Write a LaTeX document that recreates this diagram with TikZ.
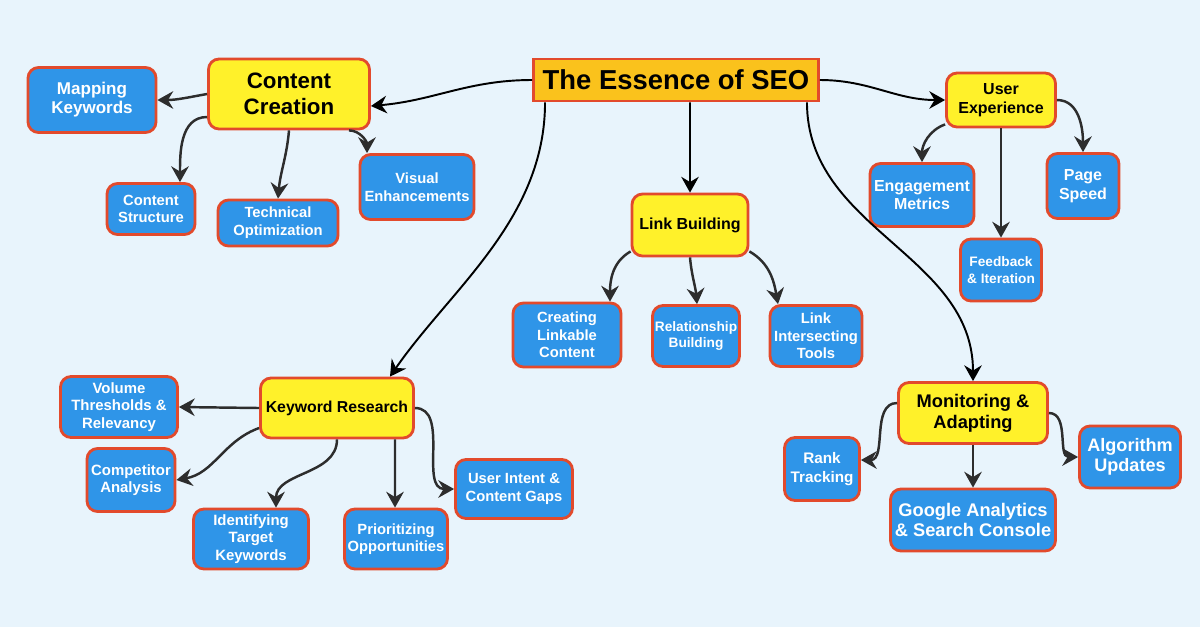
\documentclass[tikz,border=0pt]{standalone}
\usepackage{fontspec}
\setmainfont{Liberation Sans}
\usetikzlibrary{arrows.meta}
\definecolor{bgblue}{HTML}{E8F4FC}
\definecolor{leafblue}{HTML}{2F95E8}
\definecolor{edgered}{HTML}{E24A2C}
\definecolor{topicyellow}{HTML}{FFF12A}
\definecolor{rootorange}{HTML}{FAC21C}
\definecolor{arrowgray}{HTML}{2D2D2D}

\begin{document}
\begin{tikzpicture}[x=0.02cm, y=-0.02cm,
  >={Stealth[length=9pt,width=10pt,inset=3pt]},
  box/.style={draw=edgered, line width=1.6pt, align=center, inner sep=0pt},
  rootbox/.style={box, fill=rootorange, text=black},
  topic/.style={box, rounded corners=6pt, fill=topicyellow, text=black},
  leaf/.style={box, rounded corners=6pt, fill=leafblue, text=white},
  sz/.style 2 args={minimum width=#1*0.02cm, minimum height=#2*0.02cm},
  fs/.style 2 args={font=\bfseries\fontsize{#1}{#2}\selectfont},
  rootarrow/.style={->, line width=1.1pt, black},
  childarrow/.style={->, line width=1.4pt, arrowgray}]
\useasboundingbox (0,0) rectangle (1200,627);
\fill [bgblue] (0,0) rectangle (1200,627);

% centre
\node (SEO) at (676,80) [rootbox, sz={285}{42}, fs={15.6}{18}] {The Essence of SEO};

% topics
\node (CC) at (289,94) [topic, sz={161}{70}, fs={12.7}{14.6}] {Content\\Creation};
\node (LB) at (690,225) [topic, sz={116}{62}, fs={9.1}{10}] {Link Building};
\node (UX) at (1001,100) [topic, sz={109}{54}, fs={9.1}{10.8}] {User\\Experience};
\node (KR) at (337,408) [topic, sz={153}{60}, fs={9}{10}] {Keyword Research};
\node (MA) at (973,413) [topic, sz={149}{61}, fs={10.4}{12}] {Monitoring \&\\Adapting};

% content creation
\node (MK) at (92,100) [leaf, sz={128}{65}, fs={9.7}{10.9}] {Mapping\\Keywords};
\node (CS) at (151,209) [leaf, sz={88}{51}, fs={8.4}{9.8}] {Content\\Structure};
\node (TO) at (278,223) [leaf, sz={120}{46}, fs={8.4}{10.2}] {Technical\\Optimization};
\node (VE) at (417,187) [leaf, sz={114}{65}, fs={8.4}{10}] {Visual\\Enhancements};

% link building
\node (CLC) at (567,335) [leaf, sz={108}{64}, fs={8.4}{10}] {Creating\\Linkable\\Content};
\node (RB) at (696,336) [leaf, sz={87}{61}, fs={7.8}{9.2}] {Relationship\\Building};
\node (LIT) at (816,336) [leaf, sz={92}{61}, fs={8.4}{10}] {Link\\Intersecting\\Tools};

% user experience
\node (EM) at (922,195) [leaf, sz={104}{63}, fs={9.1}{10.6}] {Engagement\\Metrics};
\node (PS) at (1083,186) [leaf, sz={72}{65}, fs={9.1}{10.6}] {Page\\Speed};
\node (FI) at (1001,270) [leaf, sz={81}{62}, fs={7.8}{9.3}] {Feedback\\\& Iteration};

% keyword research
\node (VT) at (119,407) [leaf, sz={117}{61}, fs={8.5}{10}] {Volume\\Thresholds \&\\Relevancy};
\node (CA) at (131,480) [leaf, sz={88}{63}, fs={8.5}{9.9}] {Competitor\\Analysis};
\node (IT) at (251,539) [leaf, sz={115}{60}, fs={8.5}{9.9}] {Identifying\\Target\\Keywords};
\node (PO) at (396,539) [leaf, sz={103}{60}, fs={8.4}{9.9}] {Prioritizing\\Opportunities};
\node (UI) at (514,489) [leaf, sz={117}{59}, fs={8.4}{10.2}] {User Intent \&\\Content Gaps};

% monitoring
\node (RT) at (822,469) [leaf, sz={75}{63}, fs={8.7}{10.8}] {Rank\\Tracking};
\node (GA) at (973,520) [leaf, sz={165}{62}, fs={10.4}{11.8}] {Google Analytics\\\& Search Console};
\node (AU) at (1130,457) [leaf, sz={101}{62}, fs={10.3}{11.6}] {Algorithm\\Updates};

\draw [rootarrow] (SEO.west) to[out=180,in=5] ([yshift=-0.24cm]CC.east);
\draw [rootarrow] ([xshift=-2.62cm]SEO.south) .. controls +(0,117) and +(60,-87) .. ([xshift=1.06cm]KR.north);
\draw [rootarrow] ([xshift=0.28cm]SEO.south) -- (LB.north);
\draw [rootarrow] ([xshift=2.62cm]SEO.south) to[out=-90,in=90] (MA.north);
\draw [rootarrow] (SEO.east) to[out=0,in=180] (UX.west);

\draw [childarrow] (CC.west) to[out=190,in=0] (MK.east);
\draw [childarrow] ([yshift=-0.46cm]CC.west) to[out=180,in=90] ([xshift=0.58cm]CS.north);
\draw [childarrow] (CC.south) to[out=-95,in=85] (TO.north);
\draw [childarrow] ([xshift=1.2cm]CC.south) to[out=0,in=90] ([xshift=-1cm]VE.north);

\draw [childarrow] ([yshift=0.12cm]LB.south west) to[out=210,in=90] ([xshift=0.86cm]CLC.north);
\draw [childarrow] (LB.south) to[out=-85,in=95] ([xshift=0.02cm]RB.north);
\draw [childarrow] ([yshift=0.12cm]LB.south east) to[out=-30,in=100] ([xshift=-0.76cm]LIT.north);

\draw [childarrow] ([yshift=0.08cm]UX.south west) to[out=200,in=90] (EM.north);
\draw [childarrow] (UX.south) -- (FI.north);
\draw [childarrow] (UX.east) to[out=0,in=90] (PS.north);

\draw [childarrow] (KR.west) -- (VT.east);
\draw [childarrow] ([yshift=-0.4cm]KR.west) to[out=200,in=10] (CA.east);
\draw [childarrow] (KR.south) to[out=-90,in=90] ([xshift=0.5cm]IT.north);
\draw [childarrow] ([xshift=1.16cm]KR.south) -- ([xshift=-0.02cm]PO.north);
\draw [childarrow] (KR.east) to[out=0,in=180] (UI.west);

\draw [childarrow] ([yshift=0.2cm]MA.west) to[out=180,in=0] ([yshift=0.18cm]RT.east);
\draw [childarrow] (MA.south) -- (GA.north);
\draw [childarrow] (MA.east) to[out=0,in=180] (AU.west);
\end{tikzpicture}
\end{document}
